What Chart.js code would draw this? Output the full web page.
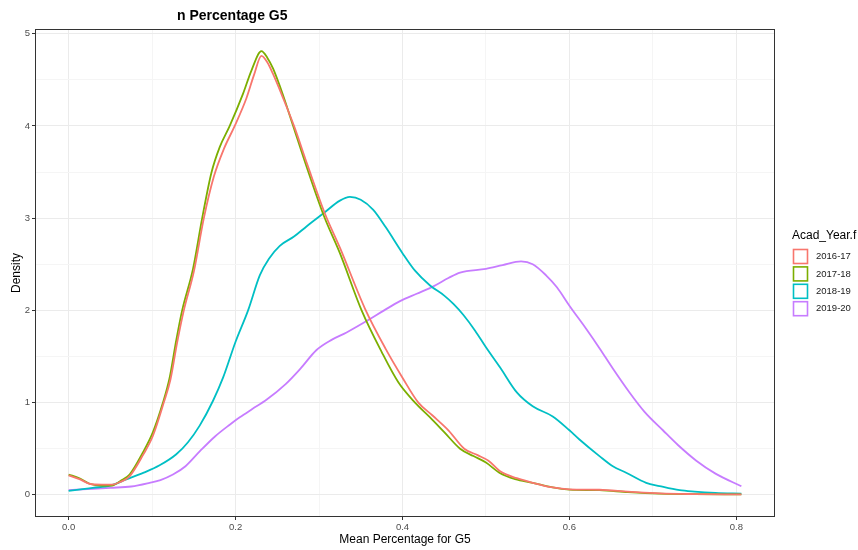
<!DOCTYPE html>
<html>
<head>
<meta charset="utf-8">
<script src="https://cdn.jsdelivr.net/npm/chart.js@4/dist/chart.umd.min.js"></script>
<style>
  html, body { margin: 0; padding: 0; background: #ffffff; }
  #wrap { width: 858px; height: 550px; position: relative; }
</style>
</head>
<body>
<div id="wrap"><canvas id="densityChart"></canvas></div>
<script>
// series names and colours (ggplot hue palette)
const seriesNames = ['2016-17', '2017-18', '2018-19', '2019-20'];
const seriesColors = ['#F8766D', '#7CAE00', '#00BFC4', '#C77CFF'];

// density curves (x = mean percentage, y = density)
const x1617 = [0, 0.013, 0.025, 0.04, 0.052, 0.062, 0.073, 0.089, 0.101, 0.114, 0.122, 0.13, 0.138, 0.15, 0.162, 0.174, 0.186, 0.199, 0.213, 0.222, 0.231,
  0.238, 0.245, 0.257, 0.27, 0.286, 0.307, 0.325, 0.355, 0.38, 0.4, 0.419, 0.436, 0.455, 0.474, 0.49, 0.503, 0.518, 0.537, 0.556, 0.58, 0.6, 0.636, 0.67, 0.708, 0.75, 0.806];
const y1617 = [0.21, 0.17, 0.12, 0.11, 0.11, 0.14, 0.2, 0.43, 0.64, 1.0, 1.25, 1.65, 2.0, 2.42, 3.0, 3.45, 3.75, 4.0, 4.3, 4.55, 4.76,
  4.69, 4.56, 4.3, 4.0, 3.58, 3.05, 2.68, 2.02, 1.58, 1.27, 1.0, 0.86, 0.7, 0.5, 0.43, 0.37, 0.25, 0.18, 0.13, 0.08, 0.06, 0.055, 0.035, 0.015, 0.008, 0.005];

const x1718 = [0, 0.013, 0.025, 0.04, 0.052, 0.062, 0.073, 0.089, 0.101, 0.113, 0.121, 0.129, 0.136, 0.149, 0.16, 0.171, 0.181, 0.193, 0.209, 0.219, 0.231,
  0.238, 0.245, 0.257, 0.269, 0.285, 0.306, 0.325, 0.351, 0.375, 0.395, 0.415, 0.433, 0.45, 0.469, 0.485, 0.5, 0.516, 0.535, 0.556, 0.58, 0.6, 0.636, 0.67, 0.708, 0.75, 0.806];
const y1718 = [0.22, 0.18, 0.12, 0.1, 0.1, 0.15, 0.22, 0.46, 0.68, 1.0, 1.27, 1.68, 2.0, 2.45, 3.0, 3.49, 3.77, 4.0, 4.35, 4.6, 4.81,
  4.74, 4.62, 4.33, 4.0, 3.56, 3.02, 2.62, 2.0, 1.55, 1.22, 1.0, 0.84, 0.68, 0.5, 0.42, 0.35, 0.24, 0.17, 0.13, 0.08, 0.057, 0.05, 0.03, 0.014, 0.007, 0.005];

const x1819 = [0, 0.029, 0.05, 0.069, 0.09, 0.109, 0.129, 0.143, 0.157, 0.173, 0.185, 0.2, 0.215, 0.229, 0.24, 0.253, 0.27, 0.285, 0.305, 0.325, 0.337,
  0.35, 0.365, 0.38, 0.4, 0.415, 0.433, 0.45, 0.461, 0.473, 0.487, 0.5, 0.517, 0.537, 0.556, 0.58, 0.6, 0.612, 0.636, 0.652, 0.668, 0.692, 0.708, 0.732, 0.75, 0.775, 0.806];
const y1819 = [0.043, 0.076, 0.1, 0.166, 0.24, 0.32, 0.44, 0.57, 0.75, 1.02, 1.27, 1.66, 2.0, 2.38, 2.56, 2.7, 2.8, 2.91, 3.05, 3.19, 3.23,
  3.2, 3.09, 2.9, 2.62, 2.43, 2.27, 2.16, 2.07, 1.95, 1.78, 1.6, 1.38, 1.11, 0.96, 0.85, 0.7, 0.6, 0.42, 0.31, 0.24, 0.13, 0.095, 0.05, 0.035, 0.022, 0.014];

const x1920 = [0, 0.029, 0.05, 0.075, 0.097, 0.11, 0.125, 0.14, 0.157, 0.175, 0.193, 0.205, 0.22, 0.237, 0.26, 0.277, 0.297, 0.315, 0.333, 0.36, 0.378,
  0.397, 0.417, 0.437, 0.455, 0.469, 0.5, 0.52, 0.542, 0.556, 0.572, 0.585, 0.6, 0.62, 0.636, 0.652, 0.672, 0.69, 0.712, 0.73, 0.752, 0.775, 0.806];
const y1920 = [0.05, 0.066, 0.076, 0.09, 0.13, 0.16, 0.22, 0.31, 0.47, 0.63, 0.76, 0.84, 0.93, 1.03, 1.2, 1.36, 1.57, 1.68, 1.76, 1.9, 2.0,
  2.1, 2.18, 2.26, 2.35, 2.41, 2.45, 2.49, 2.53, 2.5, 2.38, 2.25, 2.05, 1.8, 1.59, 1.37, 1.11, 0.9, 0.7, 0.54, 0.37, 0.23, 0.093];

// axis breaks
const xBreaks = [0.0, 0.2, 0.4, 0.6, 0.8];
const xLabels = ['0.0', '0.2', '0.4', '0.6', '0.8'];
const xMinor = [0.1, 0.3, 0.5, 0.7];
const yBreaks = [0, 1, 2, 3, 4, 5];
const yLabels = ['0', '1', '2', '3', '4', '5'];
const yMinor = [0.5, 1.5, 2.5, 3.5, 4.5];

const allX = [x1617, x1718, x1819, x1920];
const allY = [y1617, y1718, y1819, y1920];

function isBreak(list, v) {
    return list.some(b => Math.abs(b - v) < 1e-9);
}

const datasets = seriesNames.map((name, i) => ({
    label: name,
    data: allX[i].map((x, j) => ({ x: x, y: allY[i][j] })),
    borderColor: seriesColors[i],
    borderWidth: 1.8,
    pointRadius: 0,
    fill: false,
    cubicInterpolationMode: 'monotone'
}));

// panel border, title and legend drawn like ggplot
const ggExtras = {
    id: 'ggExtras',
    afterDraw(chart) {
        const ctx = chart.ctx;
        const a = chart.chartArea;
        ctx.save();
        ctx.strokeStyle = '#333333';
        ctx.lineWidth = 1;
        ctx.strokeRect(Math.round(a.left) + 0.5, Math.round(a.top) + 0.5,
            Math.round(a.right - a.left) - 1, Math.round(a.bottom - a.top) - 1);

        ctx.fillStyle = '#000000';
        ctx.font = 'bold 14px "Liberation Sans", Arial, sans-serif';
        ctx.textBaseline = 'middle';
        ctx.textAlign = 'left';
        ctx.fillText('n Percentage G5', 177, 16);

        // legend
        ctx.font = '12px "Liberation Sans", Arial, sans-serif';
        ctx.fillText('Acad_Year.f', 792, 236);
        ctx.font = '9.5px "Liberation Sans", Arial, sans-serif';
        chart.data.datasets.forEach((ds, i) => {
            const cy = 256.5 + i * 17.4;
            ctx.fillStyle = '#ffffff';
            ctx.fillRect(793.5, cy - 7, 14, 14);
            ctx.strokeStyle = ds.borderColor;
            ctx.lineWidth = 1.6;
            ctx.strokeRect(793.5, cy - 7, 14, 14);
            ctx.fillStyle = '#1a1a1a';
            ctx.fillText(ds.label, 816, cy);
        });
        ctx.restore();
    }
};

new Chart(document.getElementById('densityChart'), {
    type: 'line',
    data: { datasets: datasets },
    plugins: [ggExtras],
    options: {
        responsive: true,
        maintainAspectRatio: false,
        animation: false,
        events: [],
        layout: { padding: { left: 0, top: 29, right: 83, bottom: 0 } },
        plugins: {
            legend: { display: false },
            tooltip: { enabled: false }
        },
        scales: {
            x: {
                type: 'linear',
                min: -0.0403,
                max: 0.8463,
                afterFit: (scale) => { scale.height = 33; },
                afterBuildTicks: (scale) => {
                    scale.ticks = xBreaks.concat(xMinor).sort((a, b) => a - b).map(v => ({ value: v }));
                },
                ticks: {
                    autoSkip: false,
                    maxRotation: 0,
                    padding: 2,
                    color: '#4d4d4d',
                    font: { family: '"Liberation Sans", Arial, sans-serif', size: 9.5 },
                    callback: (v) => {
                        const k = xBreaks.findIndex(b => Math.abs(b - v) < 1e-9);
                        return k >= 0 ? xLabels[k] : '';
                    }
                },
                grid: {
                    color: (c) => isBreak(xBreaks, c.tick.value) ? '#ebebeb' : '#f5f5f5',
                    tickColor: (c) => isBreak(xBreaks, c.tick.value) ? '#333333' : 'rgba(0,0,0,0)',
                    tickLength: 3
                },
                border: { display: false },
                title: {
                    display: true,
                    text: 'Mean Percentage for G5',
                    color: '#000000',
                    font: { family: '"Liberation Sans", Arial, sans-serif', size: 12 },
                    padding: { top: 0, bottom: 3 }
                }
            },
            y: {
                min: -0.2405,
                max: 5.0505,
                afterFit: (scale) => { scale.width = 35; },
                afterBuildTicks: (scale) => {
                    scale.ticks = yBreaks.concat(yMinor).sort((a, b) => a - b).map(v => ({ value: v }));
                },
                ticks: {
                    autoSkip: false,
                    padding: 2,
                    color: '#4d4d4d',
                    font: { family: '"Liberation Sans", Arial, sans-serif', size: 9.5 },
                    callback: (v) => {
                        const k = yBreaks.findIndex(b => Math.abs(b - v) < 1e-9);
                        return k >= 0 ? yLabels[k] : '';
                    }
                },
                grid: {
                    color: (c) => isBreak(yBreaks, c.tick.value) ? '#ebebeb' : '#f5f5f5',
                    tickColor: (c) => isBreak(yBreaks, c.tick.value) ? '#333333' : 'rgba(0,0,0,0)',
                    tickLength: 3
                },
                border: { display: false },
                title: {
                    display: true,
                    text: 'Density',
                    color: '#000000',
                    font: { family: '"Liberation Sans", Arial, sans-serif', size: 12 },
                    padding: { top: 9, bottom: 0 }
                }
            }
        }
    }
});
</script>
</body>
</html>
